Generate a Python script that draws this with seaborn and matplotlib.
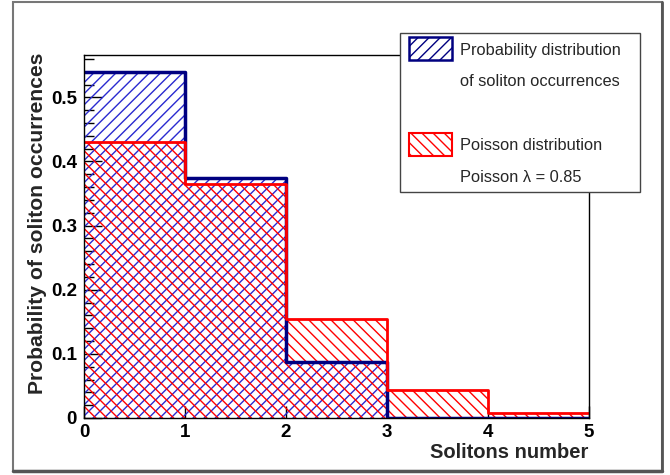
import numpy as np
import pandas as pd
import seaborn as sns
import matplotlib.pyplot as plt
from matplotlib.patches import Rectangle
from matplotlib.lines import Line2D

# Datos (probabilidad por numero de solitones)
bordes = [0, 1, 2, 3, 4, 5]
solitones = [0, 1, 2, 3, 4]
prob_solitones = [0.539, 0.374, 0.087, 0.0, 0.0]
prob_poisson = [0.430, 0.365, 0.155, 0.044, 0.008]
etiquetas_leyenda = [
    "Probability distribution",
    "of soliton occurrences",
    "Poisson distribution",
    "Poisson \u03bb = 0.85",
]

AZUL_BORDE = "#000080"
AZUL_RAYA = "#2a2ad0"
ROJO = "#ff0000"


def configurar_estilo():
    sns.set_style("white")
    # Despues de set_style fijamos la fuente (tipo Helvetica de ROOT)
    plt.rcParams["font.family"] = ["Liberation Sans", "DejaVu Sans"]
    plt.rcParams["hatch.linewidth"] = 1.0


def dibujar_histograma(ax, df, columna, color_raya, color_borde, raya, grosor):
    # Relleno rayado (sin borde)
    n_antes = len(ax.collections)
    sns.histplot(
        data=df, x="n", weights=columna, bins=bordes, element="step",
        fill=True, color=color_raya, linewidth=0, alpha=1, ax=ax,
    )
    for col in ax.collections[n_antes:]:
        col.set_facecolor("none")
        col.set_edgecolor(color_raya)
        col.set_hatch(raya)
    # Contorno escalonado
    sns.histplot(
        data=df, x="n", weights=columna, bins=bordes, element="step",
        fill=False, color=color_borde, linewidth=grosor, ax=ax,
    )


def main():
    configurar_estilo()
    df = pd.DataFrame({"n": np.array(solitones) + 0.5,
                       "solitones": prob_solitones,
                       "poisson": prob_poisson})

    fig = plt.figure(figsize=(6.7, 4.75), dpi=100)
    ax = fig.add_axes([84 / 670, 1 - 418 / 475, 505 / 670, 363 / 475])

    dibujar_histograma(ax, df, "solitones", AZUL_RAYA, AZUL_BORDE, "///", 2.5)
    dibujar_histograma(ax, df, "poisson", ROJO, ROJO, "\\\\\\", 2.0)

    ax.set_xlim(0, 5)
    ax.set_ylim(0, 0.566)
    ax.set_xlabel("")
    ax.set_ylabel("")
    ax.set_xticks(range(6))
    ax.set_yticks([0, 0.1, 0.2, 0.3, 0.4, 0.5])
    ax.set_yticklabels(["0", "0.1", "0.2", "0.3", "0.4", "0.5"])
    ax.set_yticks(np.arange(0, 0.566, 0.02), minor=True)
    # El estilo "white" quita las marcas: las volvemos a activar hacia dentro
    ax.tick_params(axis="both", which="both", direction="in", colors="black",
                   labelsize=13.5, width=1, left=True, bottom=True)
    ax.tick_params(axis="y", which="major", length=13, pad=5)
    ax.tick_params(axis="y", which="minor", length=7)
    ax.tick_params(axis="x", which="major", length=9, pad=4)
    for lab in ax.get_xticklabels() + ax.get_yticklabels():
        lab.set_fontweight("bold")
    for s in ax.spines.values():
        s.set_color("black")
        s.set_linewidth(1)
    ax.set_facecolor("white")

    # Titulos de los ejes al estilo ROOT
    fig.text(588 / 670, 1 - 452 / 475, "Solitons number", ha="right",
             va="center", fontsize=14.5, fontweight="bold")
    fig.text(38 / 670, 1 - 53 / 475, "Probability of soliton occurrences",
             ha="center", va="top", rotation=90, fontsize=15.2, fontweight="bold")

    # Leyenda dibujada a mano (caja sobre la esquina del marco)
    W, H = 670, 475
    fig.patches.append(Rectangle((400 / W, 1 - 192 / H), 240 / W, 159 / H,
                                 transform=fig.transFigure, facecolor="white",
                                 edgecolor="#444444", linewidth=1, zorder=5))
    fig.patches.append(Rectangle((409 / W, 1 - 60 / H), 43 / W, 23 / H,
                                 transform=fig.transFigure, facecolor="white",
                                 edgecolor=AZUL_BORDE, hatch="///",
                                 linewidth=1.8, zorder=6))
    fig.patches.append(Rectangle((409 / W, 1 - 156 / H), 43 / W, 23 / H,
                                 transform=fig.transFigure, facecolor="white",
                                 edgecolor=ROJO, hatch="\\\\\\",
                                 linewidth=1.5, zorder=6))
    for etiqueta, y in zip(etiquetas_leyenda, [51, 82, 146, 177]):
        fig.text(460 / W, 1 - y / H, etiqueta, ha="left", va="center",
                 fontsize=11.8, zorder=7)

    # Marco del lienzo
    fig.patches.append(Rectangle((13 / W, 1 - 471 / H), 649 / W, 469 / H,
                                 transform=fig.transFigure, facecolor="none",
                                 edgecolor="#777777", linewidth=1.5, zorder=1))
    fig.lines.append(Line2D([13 / W, 662 / W], [1 - 471 / H, 1 - 471 / H],
                            transform=fig.transFigure, color="#555555", lw=2.5))
    fig.lines.append(Line2D([662 / W, 662 / W], [1 - 471 / H, 1 - 2 / H],
                            transform=fig.transFigure, color="#555555", lw=2))

    fig.savefig("out.png", dpi=100)
    plt.close()


if __name__ == "__main__":
    main()
